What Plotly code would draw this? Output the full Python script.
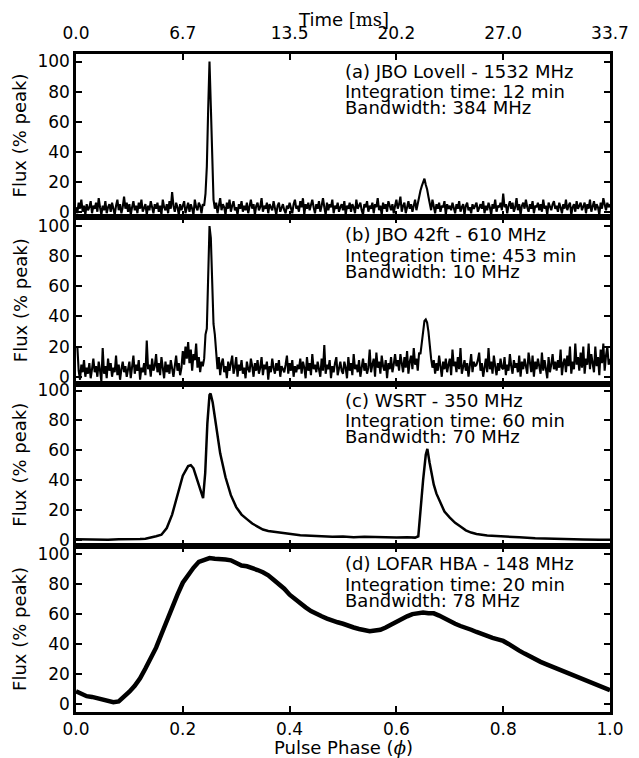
import plotly.graph_objects as go

# ---------------- data ----------------
phase_ab = [i / 400 for i in range(401)]

flux_a = [
    3, -1, 6, 2, 8, 0, 4, -2, 5, 1, 3, 7, -1, 4, 2, 6, 0, 9, 3, -2,
    4, 1, 7, -1, 3, 5, 0, 6, 2, -2, 4, 8, 1, 5, -1, 3, 10, 2, 6, 0,
    5, -2, 3, 7, 1, 4, -1, 6, 2, 8, 0, 3, 5, -2, 4, 1, 7, 3, -1, 5,
    2, 6, 0, 4, -2, 8, 3, 1, 5, -1, 7, 2, 13, 4, 0, 6, 3, -2, 5, 1,
    4, 7, -1, 3, 6, 0, 5, 2, -2, 8, 3, 1, 6, 4, -1, 5, 4, 12, 30, 68,
    100, 70, 30, 8, 2, 6, -1, 4, 9, 1, 5, 3, -2, 6, 2, 8, 0, 4, 7, 1,
    3, -2, 5, 2, 7, 0, 4, 1, 6, -1, 3, 8, 2, 5, -2, 4, 6, 1, 3, 9,
    0, 4, 2, 6, -1, 5, 3, 1, 7, 2, -2, 4, 6, 0, 3, 5, 1, -1, 4, 2,
    6, 3, -1, 5, 8, 2, 4, 0, 7, 3, 9, -2, 5, 2, 6, 1, 4, 8, 3, -1,
    5, 2, 7, 0, 4, 9, 3, -2, 6, 1, 5, 3, 8, -1, 4, 2, 6, 0, 3, 5,
    1, 7, -2, 4, 2, 6, 0, 5, 3, -1, 8, 2, 4, 6, 1, -2, 5, 3, 7, 0,
    4, 2, 6, -1, 5, 3, 9, 1, 4, -2, 6, 2, 5, 0, 7, 3, 1, 5, -1, 4,
    8, 2, 5, 10, 0, 4, 6, -1, 3, 7, 2, 5, 0, 4, 8, 1, 6, 10, 14, 17,
    20, 22, 18, 15, 10, 5, 1, 8, 3, -1, 5, 2, 6, 0, 4, 3, 7, -2, 5, 2,
    4, 1, 6, 3, -1, 5, 2, 7, 0, 3, 5, -2, 4, 6, 1, 3, -1, 5, 2, 4,
    6, 0, 3, 5, 2, 7, -1, 4, 1, 6, 3, -2, 5, 2, 8, 0, 4, 3, 6, 1,
    12, 3, 5, -1, 4, 7, 2, 6, 0, 3, 9, 1, 5, -2, 4, 6, 2, 8, 3, 0,
    5, 2, 7, -1, 4, 3, 6, 1, 5, 0, 8, 2, 4, -2, 6, 3, 1, 5, 7, 2,
    4, 0, 6, 3, -1, 5, 2, 8, 1, 4, 6, -2, 3, 5, 0, 7, 2, 4, 6, 1,
    3, 6, -1, 5, 2, 8, 0, 4, 7, 1, 5, 3, -2, 6, 2, 9, 4, 1, 6, 3,
    5,
]

flux_b = [
    19, 20, 4, -2, 8, 3, 11, 0, 6, 2, 9, -1, 5, 12, 3, 7, 0, 10, 4, -3,
    19, 2, 7, -1, 12, 4, 9, 0, 6, 3, 14, 1, 8, -2, 5, 10, 3, 7, 0, 6,
    10, -1, 5, 14, 2, 8, 4, 11, -2, 6, 3, 9, 1, 24, 5, 8, 0, 12, 4, 7,
    15, 3, 9, 1, 13, 6, -1, 10, 3, 8, 2, 11, 5, 0, 7, 14, 4, 9, 1, 6,
    17, 8, 20, 12, 23, 9, 18, 4, 15, 11, 22, 6, 13, 3, 10, 7, 12, 28, 32, 70,
    100, 92, 60, 35, 28, 14, 5, 13, 1, 9, 12, 3, 7, -1, 10, 4, 8, 14, 2, 6,
    13, 0, 8, 4, 11, 2, 6, -1, 10, 5, 3, 12, 7, 0, 9, 4, 11, 2, 6, 13,
    1, 8, 5, 10, -2, 7, 3, 12, 6, 2, 9, 4, 11, 0, 7, 5, 3, 8, 14, 2,
    9, 4, 11, 0, 7, 3, 8, 5, 12, 2, 10, 6, -1, 13, 4, 9, 1, 15, 5, 8,
    3, 10, 6, 0, 12, 4, 21, 2, 8, 5, 11, -1, 7, 3, 9, 13, 1, 6, 10, 4,
    2, 10, 6, -1, 13, 4, 9, 1, 15, 5, 8, 3, 11, 0, 7, 12, 4, 9, 2, 6,
    18, 3, 8, 12, 0, 16, 6, 10, 2, 14, 7, 4, 11, -1, 9, 5, 13, 3, 8, 15,
    7, 11, 4, 15, 9, 3, 13, 6, 17, 2, 10, 14, 5, 19, 8, 12, 4, 16, 15, 22,
    32, 37, 38, 36, 30, 20, 12, 6, 11, 2, 9, 4, 14, 7, 0, 10, 5, 12, 3, 8,
    12, 1, 18, 7, 10, 3, 13, 5, 19, 2, 8, 11, 4, 9, 0, 6, 15, 3, 10, 7,
    8, 11, 16, 4, 9, 0, 6, 12, 3, 19, 5, 10, 2, 14, 7, 1, 9, 4, 12, 6,
    5, 13, 1, 8, 4, 15, 7, 2, 11, 6, 9, 3, 14, 0, 10, 5, 12, 7, 2, 16,
    9, 3, 14, 0, 10, 5, 12, 7, 2, 16, 4, 11, 6, -1, 13, 3, 8, 15, 5, 10,
    4, 11, 6, 18, 1, 9, 12, 3, 14, 7, 20, 2, 10, 5, 22, 8, 13, 4, 16, 6,
    20, 2, 12, 8, 22, 5, 15, 10, 3, 20, 7, 13, 1, 18, 9, 22, 4, 14, 20, 8,
    12,
]

phase_c = [0.00, 0.02, 0.04, 0.06, 0.08, 0.10, 0.12, 0.13, 0.14, 0.15,
           0.16, 0.17, 0.18, 0.19, 0.20, 0.21, 0.215, 0.22, 0.23, 0.235,
           0.238, 0.242, 0.246, 0.25, 0.252, 0.256, 0.26, 0.265, 0.27, 0.28,
           0.29, 0.30, 0.31, 0.32, 0.33, 0.34, 0.35, 0.36, 0.38, 0.40,
           0.42, 0.44, 0.46, 0.48, 0.50, 0.52, 0.54, 0.56, 0.58, 0.60,
           0.62, 0.635, 0.641, 0.645, 0.65, 0.655, 0.658, 0.662, 0.666, 0.67,
           0.675, 0.68, 0.69, 0.70, 0.71, 0.72, 0.73, 0.74, 0.75, 0.77,
           0.80, 0.83, 0.86, 0.89, 0.92, 0.95, 0.98, 1.00]
flux_c = [0.5, 0.3, 0.6, 0.2, 0.5, 0.4, 0.6, 0.8, 1.5, 2.5,
          3.5, 8, 17, 31, 43, 49.5, 50, 48, 37, 30,
          28, 45, 78, 97, 98, 92, 82, 70, 58, 42,
          30, 22, 17, 14, 11, 9, 7, 6, 5, 4,
          3.2, 2.8, 2.4, 2.1, 2.3, 1.9, 2.1, 1.8, 2.0, 1.7,
          1.8, 1.6, 2.5, 20, 40, 57, 61, 52, 43, 37,
          31, 27, 19, 15, 11.5, 9, 6.5, 5, 4, 3,
          2.2, 1.8, 1.2, 0.8, 0.6, 0.4, 0.2, 0.2]

phase_d = [i / 100 for i in range(101)]
flux_d = [8.3, 6.5, 5.0, 4.5, 3.5, 3.0, 2.0, 1.0, 1.5, 4.5,
          8.0, 12.0, 17.0, 23.5, 30.0, 37.5, 46.5, 56.0, 64.5, 73.0,
          81.0, 86.5, 91.0, 95.0, 96.5, 97.5, 97.0, 97.0, 96.5, 96.0,
          94.0, 92.5, 92.0, 91.0, 89.5, 88.0, 86.0, 83.0, 80.0, 77.0,
          73.0, 70.0, 67.0, 64.5, 62.0, 60.0, 58.5, 57.0, 55.5, 54.5,
          53.5, 52.0, 51.0, 50.0, 49.0, 48.5, 49.0, 49.5, 51.0, 53.0,
          55.0, 57.0, 58.5, 60.0, 60.5, 61.0, 60.5, 60.5, 59.0, 57.0,
          55.5, 53.5, 52.0, 51.0, 49.5, 48.0, 46.5, 45.0, 44.0, 43.0,
          42.0, 40.0, 37.5, 35.5, 33.5, 31.5, 30.0, 28.0, 26.5, 25.0,
          23.5, 22.0, 20.5, 19.0, 17.5, 16.0, 14.5, 13.0, 11.5, 10.0,
          9.0]

x_tick_vals = [0.0, 0.2, 0.4, 0.6, 0.8, 1.0]
x_tick_text = ["0.0", "0.2", "0.4", "0.6", "0.8", "1.0"]
time_tick_text = ["0.0", "6.7", "13.5", "20.2", "27.0", "33.7"]
y_tick_vals = [0, 20, 40, 60, 80, 100]

panel_titles = ["(a) JBO Lovell - 1532 MHz", "(b) JBO 42ft - 610 MHz",
                "(c) WSRT - 350 MHz", "(d) LOFAR HBA - 148 MHz"]
integration = ["Integration time: 12 min", "Integration time: 453 min",
               "Integration time: 60 min", "Integration time: 20 min"]
bandwidth = ["Bandwidth: 384 MHz", "Bandwidth: 10 MHz",
             "Bandwidth: 70 MHz", "Bandwidth: 78 MHz"]

# ---------------- figure ----------------
FONT = "DejaVu Sans"
domains = [[0.7523, 1.0], [0.4992, 0.7523], [0.2523, 0.4992], [0.0, 0.2523]]
yranges = [[-3.5, 105], [-4.5, 106], [-4.0, 104.7], [-5.6, 105.6]]
line_widths = [2.1, 2.1, 2.5, 4.5]
series = [(phase_ab, flux_a), (phase_ab, flux_b), (phase_c, flux_c), (phase_d, flux_d)]

fig = go.Figure()
for i, (xs, ys) in enumerate(series):
    fig.add_trace(go.Scatter(
        x=xs, y=ys, mode="lines",
        line=dict(color="black", width=line_widths[i]),
        xaxis="x" if i == 0 else f"x{i+1}",
        yaxis="y" if i == 0 else f"y{i+1}",
        showlegend=False, hoverinfo="skip",
    ))

axis_common = dict(showline=True, linecolor="black", linewidth=2.5, mirror="ticks",
                   ticks="inside", ticklen=6, tickwidth=1.8, tickcolor="black",
                   showgrid=False, zeroline=False, automargin=False,
                   tickfont=dict(family=FONT, size=17, color="black"))

# the page body has an 8px margin, so the figure is sized to fit inside the window
layout = dict(
    width=631, height=750,
    margin=dict(l=68, r=29, t=46, b=46),
    paper_bgcolor="white", plot_bgcolor="white",
    font=dict(family=FONT, color="black"),
    template="none",
)
for i in range(4):
    xk = "xaxis" if i == 0 else f"xaxis{i+1}"
    yk = "yaxis" if i == 0 else f"yaxis{i+1}"
    yid = "y" if i == 0 else f"y{i+1}"
    xid = "x" if i == 0 else f"x{i+1}"
    layout[xk] = dict(axis_common, range=[0, 1], anchor=yid,
                      tickvals=x_tick_vals, ticktext=x_tick_text,
                      showticklabels=(i == 3))
    if i != 3:
        layout[xk]["matches"] = "x4"
    layout[yk] = dict(axis_common, range=yranges[i], domain=domains[i], anchor=xid,
                      tickvals=y_tick_vals, ticktext=[str(v) for v in y_tick_vals])

# top time axis
layout["xaxis5"] = dict(axis_common, range=[0, 1], overlaying="x", anchor="y", side="top",
                        tickvals=x_tick_vals, ticktext=time_tick_text, mirror=False,
                        ticklabelstandoff=5)
fig.add_trace(go.Scatter(x=[None], y=[None], xaxis="x5", yaxis="y", showlegend=False))

fig.update_layout(**layout)

ann = []
for i in range(4):
    xr = "x" if i == 0 else f"x{i+1}"
    yr = "y domain" if i == 0 else f"y{i+1} domain"
    for txt, yy in [(panel_titles[i], 0.895), (integration[i], 0.77), (bandwidth[i], 0.672)]:
        ann.append(dict(text=txt, x=0.5, y=yy, xref=xr, yref=yr, xanchor="left",
                        yanchor="middle", showarrow=False,
                        font=dict(family=FONT, size=18, color="black")))
    d0, d1 = domains[i]
    ann.append(dict(text="Flux (% peak)", x=-0.105, y=(d0 + d1) / 2, xref="paper", yref="paper",
                    xanchor="center", yanchor="middle", textangle=-90, showarrow=False,
                    font=dict(family=FONT, size=18, color="black")))

ann.append(dict(text="Time <span style='font-family:DejaVu Serif'>[ms]</span>",
                x=0.5, y=1.052, xref="paper", yref="paper", xanchor="center", yanchor="middle",
                showarrow=False, font=dict(family=FONT, size=18, color="black")))
ann.append(dict(text="Pulse Phase (<span style='font-family:DejaVu Serif'><i>ϕ</i></span>)",
                x=0.5, y=-0.0532, xref="paper", yref="paper", xanchor="center", yanchor="middle",
                showarrow=False, font=dict(family=FONT, size=18, color="black")))
fig.update_layout(annotations=ann)

fig.write_html("out.html")
